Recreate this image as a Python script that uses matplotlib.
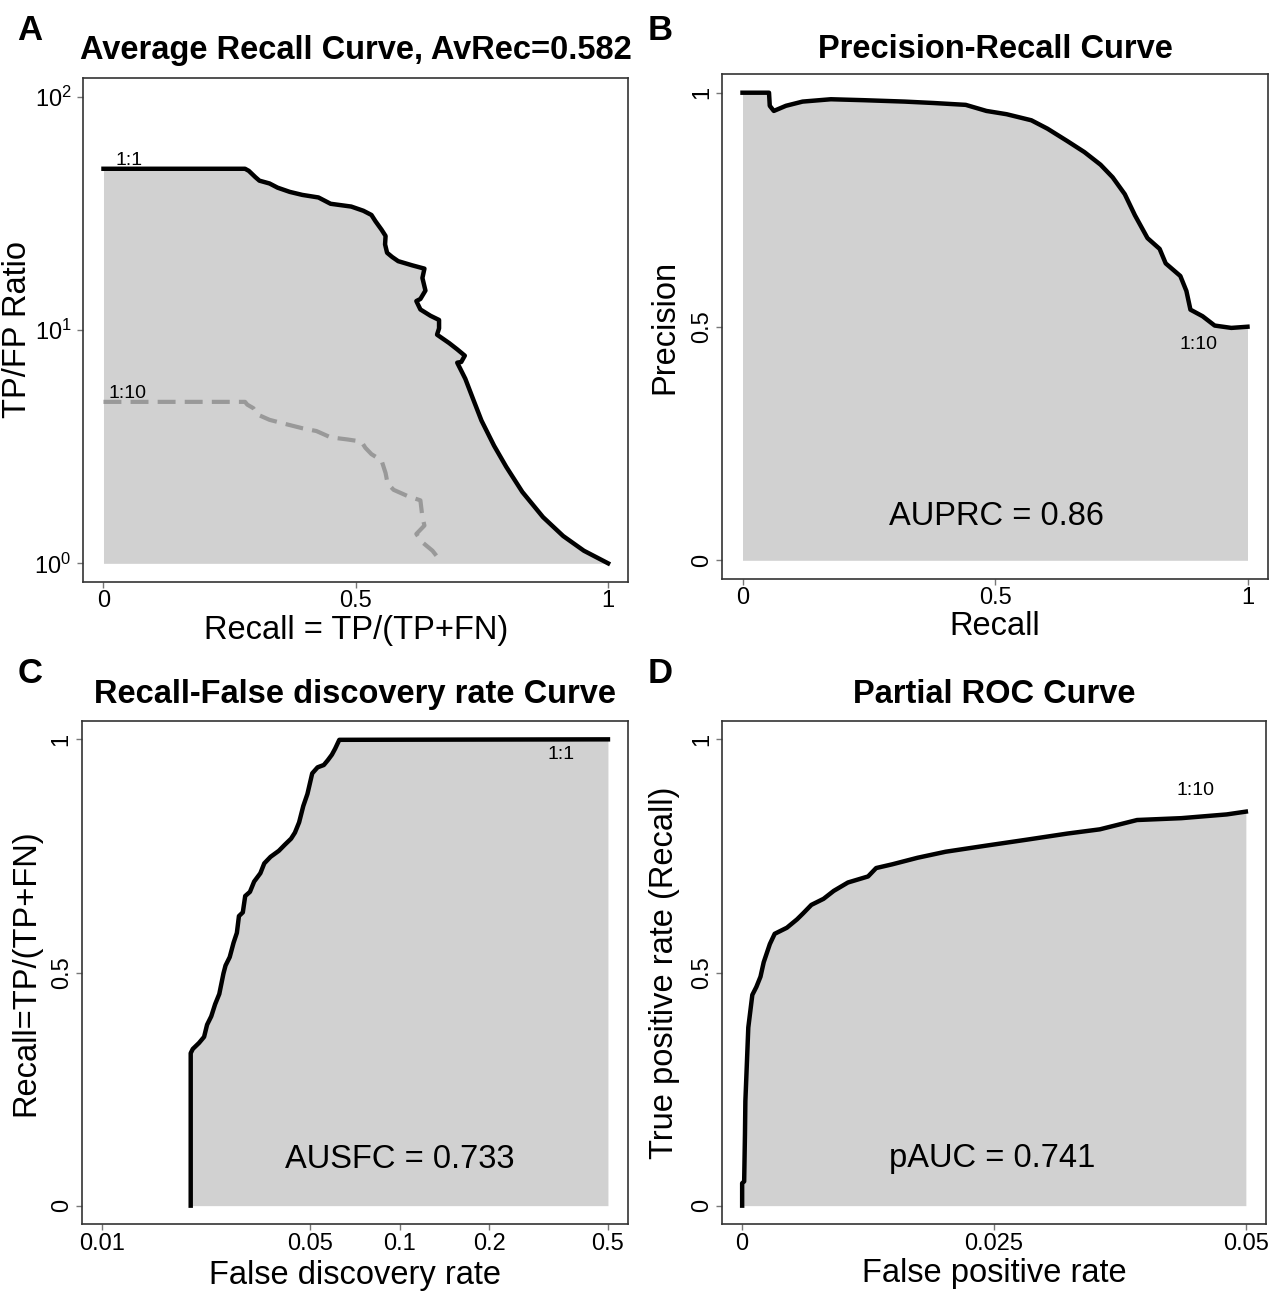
import matplotlib
matplotlib.use("Agg")
import numpy as np
import matplotlib.pyplot as plt

plt.rcParams["font.family"] = ["Liberation Sans", "DejaVu Sans"]
plt.rcParams["mathtext.default"] = "regular"

# ---- A: average recall curve (TP/FP ratio vs recall) ----
avrec_x = [0.0, 0.2805, 0.288, 0.301, 0.309, 0.329, 0.345, 0.369, 0.394, 0.426, 0.450,
           0.491, 0.515, 0.531, 0.539, 0.551, 0.559, 0.558, 0.562, 0.572, 0.584, 0.612,
           0.636, 0.632, 0.638, 0.628, 0.620, 0.628, 0.648, 0.665, 0.665, 0.661, 0.673,
           0.685, 0.701, 0.716, 0.709, 0.701, 0.717, 0.733, 0.749, 0.774, 0.798, 0.830,
           0.871, 0.911, 0.952, 1.0]
avrec_log = [1.691, 1.691, 1.682, 1.655, 1.640, 1.628, 1.610, 1.592, 1.579, 1.568, 1.541,
             1.529, 1.511, 1.493, 1.466, 1.430, 1.403, 1.367, 1.331, 1.313, 1.295, 1.277,
             1.263, 1.223, 1.169, 1.133, 1.124, 1.088, 1.061, 1.043, 1.007, 0.980, 0.962,
             0.944, 0.917, 0.890, 0.863, 0.860, 0.791, 0.701, 0.612, 0.504, 0.414, 0.306,
             0.198, 0.117, 0.054, 0.0]
avrec10_x = [0.0, 0.2805, 0.285, 0.297, 0.305, 0.329, 0.361, 0.394, 0.422, 0.450, 0.483,
             0.511, 0.519, 0.531, 0.551, 0.559, 0.563, 0.575, 0.603, 0.628, 0.632, 0.636,
             0.620, 0.632, 0.652, 0.665]
avrec10_log = [0.692, 0.692, 0.680, 0.665, 0.638, 0.615, 0.597, 0.579, 0.567, 0.540, 0.531,
               0.522, 0.495, 0.468, 0.441, 0.387, 0.342, 0.315, 0.288, 0.270, 0.198, 0.162,
               0.126, 0.090, 0.054, 0.018]

# ---- B: precision-recall ----
pr_recall = [0.0, 0.0525, 0.054, 0.062, 0.086, 0.119, 0.175, 0.240, 0.321, 0.378, 0.442,
             0.483, 0.523, 0.572, 0.604, 0.644, 0.677, 0.709, 0.733, 0.757, 0.777, 0.802,
             0.826, 0.838, 0.867, 0.879, 0.887, 0.911, 0.935, 0.968, 1.0]
pr_precision = [1.0, 1.0, 0.972, 0.961, 0.972, 0.981, 0.986, 0.984, 0.981, 0.978, 0.974,
                0.961, 0.954, 0.941, 0.923, 0.896, 0.873, 0.846, 0.819, 0.783, 0.738, 0.689,
                0.666, 0.635, 0.608, 0.576, 0.536, 0.522, 0.502, 0.497, 0.4995]

# ---- C: recall vs false discovery rate (log10 of FDR) ----
fdr_log = [-1.702, -1.702, -1.695, -1.674, -1.657, -1.647, -1.633, -1.620, -1.606, -1.592,
           -1.585, -1.571, -1.558, -1.547, -1.540, -1.527, -1.519, -1.503, -1.489, -1.468,
           -1.455, -1.434, -1.406, -1.386, -1.365, -1.352, -1.338, -1.324, -1.310, -1.294,
           -1.276, -1.255, -1.242, -1.228, -1.217, -1.203, -0.301]
fdr_recall = [0.0, 0.327, 0.336, 0.349, 0.362, 0.388, 0.406, 0.432, 0.454, 0.498, 0.515,
              0.533, 0.564, 0.585, 0.621, 0.629, 0.664, 0.673, 0.695, 0.713, 0.734, 0.748,
              0.761, 0.774, 0.787, 0.800, 0.822, 0.857, 0.883, 0.927, 0.940, 0.945, 0.955,
              0.967, 0.980, 0.999, 1.0]

# ---- D: partial ROC ----
roc_fpr = [0.0, 0.0, 0.0002, 0.00028, 0.00032, 0.00048, 0.00061, 0.00081, 0.00101, 0.00141,
           0.00182, 0.00214, 0.00275, 0.00323, 0.00444, 0.00545, 0.00606, 0.00687, 0.00808,
           0.00909, 0.0105, 0.0125, 0.0133, 0.0149, 0.0174, 0.0202, 0.0242, 0.0283, 0.0323,
           0.0355, 0.0392, 0.0436, 0.0481, 0.0500]
roc_tpr = [0.0, 0.048, 0.052, 0.154, 0.224, 0.311, 0.382, 0.417, 0.452, 0.469, 0.491, 0.522,
           0.561, 0.583, 0.596, 0.614, 0.627, 0.645, 0.658, 0.675, 0.693, 0.706, 0.724, 0.732,
           0.746, 0.759, 0.772, 0.785, 0.798, 0.807, 0.827, 0.831, 0.839, 0.845]

FILL = "#d1d1d1"
FRAME = "#333333"
TICKC = "#777777"

fig = plt.figure(figsize=(12.78, 12.93), dpi=100)
W, H = 1278, 1293


def make_axes(l, t, r, b):
    return fig.add_axes([l / W, 1 - b / H, (r - l) / W, (b - t) / H])


def style(ax, rotate_y=True):
    for s in ax.spines.values():
        s.set_color(FRAME)
        s.set_linewidth(1.2)
    ax.tick_params(axis="both", which="major", length=4.5, width=1, color=TICKC,
                   labelsize=17, labelcolor="black")
    ax.tick_params(axis="x", pad=1.5)
    if rotate_y:
        ax.tick_params(axis="y", pad=2)
        for lab in ax.get_yticklabels():
            lab.set_rotation(90)
            lab.set_va("center")
    ax.tick_params(which="minor", length=0)


def labels(ax, title, xlabel, ylabel, ty, xly, ylx):
    ax.text(0.5, ty, title, transform=ax.transAxes, ha="center", va="baseline",
            fontsize=23.5, fontweight="bold")
    ax.set_xlabel(xlabel, fontsize=23.5, va="center")
    ax.xaxis.set_label_coords(0.5, xly)
    ax.set_ylabel(ylabel, fontsize=23.5, va="center")
    ax.yaxis.set_label_coords(ylx, 0.5)


# Panel A
axA = make_axes(83.3, 78, 628.3, 582)
ya = 10 ** np.array(avrec_log)
ya10 = 10 ** np.array(avrec10_log)
axA.fill_between(avrec_x, ya, 1, color=FILL, lw=0)
axA.plot(avrec10_x, ya10, color="#999999", lw=3, dashes=(4.3, 2.2), solid_capstyle="round")
axA.plot(avrec_x, ya, color="black", lw=3.2, solid_joinstyle="round")
axA.set_yscale("log")
axA.set_xlim(-0.04, 1.04)
axA.set_ylim(10 ** -0.08, 10 ** 2.08)
axA.set_xticks([0, 0.5, 1], ["0", "0.5", "1"])
axA.set_yticks([1, 10, 100], ["$10^0$", "$10^1$", "$10^2$"])
axA.minorticks_off()
style(axA, rotate_y=False)
axA.tick_params(axis="y", pad=4)
axA.text(0.05, 10 ** 1.727, "1:1", fontsize=14, ha="center", va="center")
axA.text(0.048, 10 ** 0.728, "1:10", fontsize=14, ha="center", va="center")
labels(axA, "Average Recall Curve, AvRec=0.582", "Recall = TP/(TP+FN)", "TP/FP Ratio",
       1.0377, -0.097, -0.12)

# Panel B
axB = make_axes(722.3, 74, 1267.7, 579)
axB.fill_between(pr_recall, pr_precision, 0, color=FILL, lw=0)
axB.plot(pr_recall, pr_precision, color="black", lw=3.2, solid_joinstyle="round")
axB.set_xlim(-0.04, 1.04)
axB.set_ylim(-0.04, 1.04)
axB.set_xticks([0, 0.5, 1], ["0", "0.5", "1"])
axB.set_yticks([0, 0.5, 1], ["0", "0.5", "1"])
style(axB)
axB.text(0.903, 0.461, "1:10", fontsize=14, ha="center", va="center")
axB.text(0.503, 0.0945, "AUPRC = 0.86", fontsize=23.5, ha="center", va="center")
labels(axB, "Precision-Recall Curve", "Recall", "Precision", 1.032, -0.095, -0.106)

# Panel C
axC = make_axes(81.7, 720.7, 628.2, 1224.3)
xc = 10 ** np.array(fdr_log)
axC.fill_between(xc, fdr_recall, 0, color=FILL, lw=0)
axC.plot(xc, fdr_recall, color="black", lw=3.2, solid_joinstyle="round")
axC.set_xscale("log")
axC.set_xlim(10 ** -2.068, 10 ** -0.233)
axC.set_ylim(-0.04, 1.04)
axC.set_xticks([0.01, 0.05, 0.1, 0.2, 0.5], ["0.01", "0.05", "0.1", "0.2", "0.5"])
axC.set_yticks([0, 0.5, 1], ["0", "0.5", "1"])
axC.minorticks_off()
style(axC)
axC.text(0.348, 0.967, "1:1", fontsize=14, ha="center", va="center")
axC.text(0.0998, 0.099, "AUSFC = 0.733", fontsize=23.5, ha="center", va="center")
labels(axC, "Recall-False discovery rate Curve", "False discovery rate", "Recall=TP/(TP+FN)",
       1.0345, -0.101, -0.103)

# Panel D
axD = make_axes(722, 720.7, 1266, 1224.3)
axD.fill_between(roc_fpr, roc_tpr, 0, color=FILL, lw=0)
axD.plot(roc_fpr, roc_tpr, color="black", lw=3.2, solid_joinstyle="round")
axD.set_xlim(-0.002, 0.052)
axD.set_ylim(-0.04, 1.04)
axD.set_xticks([0, 0.025, 0.05], ["0", "0.025", "0.05"])
axD.set_yticks([0, 0.5, 1], ["0", "0.5", "1"])
style(axD)
axD.text(0.045, 0.890, "1:10", fontsize=14, ha="center", va="center")
axD.text(0.0248, 0.101, "pAUC = 0.741", fontsize=23.5, ha="center", va="center")
labels(axD, "Partial ROC Curve", "False positive rate", "True positive rate (Recall)",
       1.0345, -0.097, -0.105)

# panel letters
for letter, px, py in [("A", 17, 40), ("B", 648, 40), ("C", 18, 683), ("D", 648, 683)]:
    fig.text(px / W, 1 - py / H, letter, fontsize=25, fontweight="bold",
             ha="left", va="baseline")

fig.savefig("out.png", dpi=100)
